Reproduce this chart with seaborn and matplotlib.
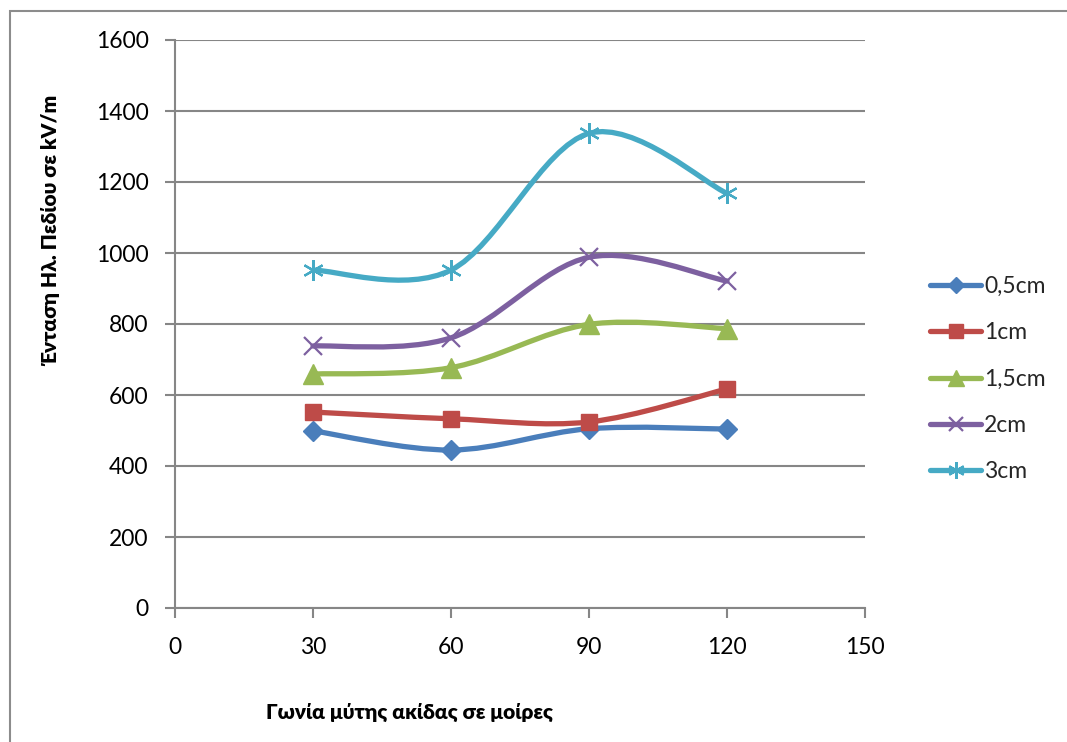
import matplotlib
matplotlib.use("Agg")
import matplotlib.pyplot as plt
import seaborn as sns
import numpy as np
from matplotlib.path import Path
from matplotlib.patches import PathPatch, Rectangle
from matplotlib.lines import Line2D

# Tip angle in degrees
angles = [30, 60, 90, 120]

# Field strength (kV/m) for each tip-plate distance
e_05cm = [499, 445, 505, 504]
e_1cm = [552, 533, 524, 617]
e_15cm = [659, 677, 799, 787]
e_2cm = [738, 761, 988, 921]
e_3cm = [952, 952, 1337, 1168]

series_labels = ["0,5cm", "1cm", "1,5cm", "2cm", "3cm"]
series_values = [e_05cm, e_1cm, e_15cm, e_2cm, e_3cm]

colors = ["#4A7EBB", "#BE4B48", "#98B954", "#7D60A0", "#46AAC5"]
markers = ["D", "s", "^", "x", (6, 2, 0)]
msizes = [10, 12, 14, 13, 15]
mews = [1, 1, 1, 1.6, 1.6]

x_label = "Γωνία μύτης ακίδας σε μοίρες"
y_label = "Ένταση Ηλ. Πεδίου σε kV/m"

sns.set_theme(style="white")
plt.rcParams["font.family"] = ["Lato", "Open Sans", "DejaVu Sans"]

fig = plt.figure(figsize=(10.67, 7.42), dpi=100)
ax = fig.add_axes([175 / 1067, 1 - 608 / 742, 690 / 1067, 568 / 742])

# outer chart border
fig.patches.append(Rectangle((10 / 1067, -0.05), 1.2, 1 - 11 / 742 + 0.05,
                             transform=fig.transFigure, fill=False,
                             edgecolor="#8C8C8C", linewidth=1.5, zorder=0))


def smooth_path(xs, ys):
    """Cubic Bezier path through the points (Catmull-Rom style tangents)."""
    pts = np.column_stack([xs, ys]).astype(float)
    n = len(pts)
    verts = [pts[0]]
    codes = [Path.MOVETO]
    for i in range(n - 1):
        p_prev = pts[i - 1] if i > 0 else pts[i]
        p_next2 = pts[i + 2] if i + 2 < n else pts[i + 1]
        c1 = pts[i] + (pts[i + 1] - p_prev) / 6.0
        c2 = pts[i + 1] - (p_next2 - pts[i]) / 6.0
        verts += [c1, c2, pts[i + 1]]
        codes += [Path.CURVE4] * 3
    return Path(verts, codes)


handles = []
for k, (lab, vals, col, mk, ms, mw) in enumerate(
        zip(series_labels, series_values, colors, markers, msizes, mews)):
    z = 3 + 2 * k
    ax.add_patch(PathPatch(smooth_path(angles, vals), fill=False, edgecolor=col,
                           linewidth=3.8, capstyle="round", joinstyle="round",
                           zorder=z))
    sns.lineplot(x=angles, y=vals, ax=ax, color=col, marker=mk, markersize=ms,
                 markeredgewidth=mw, markeredgecolor=col, linestyle="",
                 legend=False, zorder=z + 1)
    handles.append(Line2D([0], [0], color=col, linewidth=3.8, marker=mk,
                          markersize=ms * 0.8, markeredgewidth=mw,
                          markeredgecolor=col, solid_capstyle="round"))

ax.set_xlim(0, 150)
ax.set_ylim(0, 1600)
ax.set_xticks([0, 30, 60, 90, 120, 150])
ax.set_yticks(range(0, 1601, 200))

ax.grid(axis="y", color="#868686", linewidth=1.5)
ax.grid(axis="x", visible=False)
ax.set_axisbelow(True)
for side in ["top", "right"]:
    ax.spines[side].set_visible(False)
for side in ["left", "bottom"]:
    ax.spines[side].set_color("#868686")
    ax.spines[side].set_linewidth(1.5)

ax.tick_params(axis="y", which="major", direction="out", length=7, width=1.5,
               color="#868686", left=True, pad=12, labelsize=16.5, labelcolor="black")
ax.tick_params(axis="x", which="major", direction="out", length=7, width=1.5,
               color="#868686", bottom=True, pad=14, labelsize=16.5, labelcolor="black")

ax.set_xlabel(x_label, fontsize=15, fontweight="heavy", color="black")
ax.set_ylabel(y_label, fontsize=15, fontweight="heavy", color="black")
ax.xaxis.set_label_coords(0.34, -0.167)
ax.yaxis.set_label_coords(-0.167, 0.665)

leg = ax.legend(handles, series_labels, loc="center left",
                bbox_to_anchor=(1.065, 0.403), frameon=False, fontsize=16.5,
                handlelength=2.2, labelspacing=1.1, handletextpad=0.15)

fig.savefig("out.png", dpi=100)
